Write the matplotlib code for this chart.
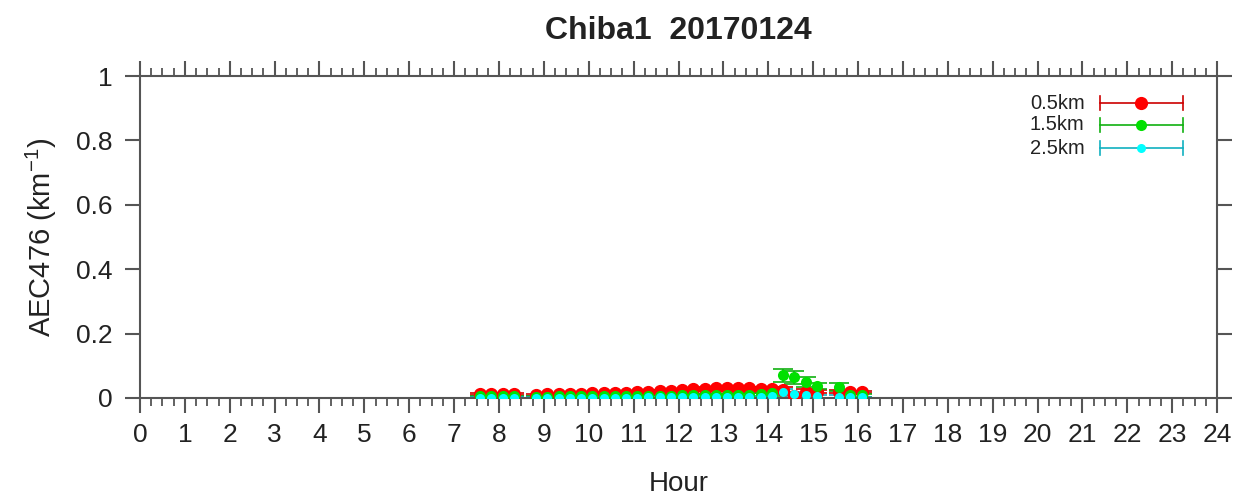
import numpy as np
import matplotlib.pyplot as plt
from matplotlib.ticker import MultipleLocator

plt.rcParams['font.family'] = ['Liberation Sans', 'DejaVu Sans']
plt.rcParams['mathtext.fontset'] = 'custom'
plt.rcParams['mathtext.rm'] = 'Liberation Sans'

# -------------------------------
# DATA
# -------------------------------
hours = [7.58, 7.83, 8.08, 8.33,
         8.83, 9.08, 9.33, 9.58, 9.83, 10.08, 10.33, 10.58, 10.83, 11.08,
         11.33, 11.58, 11.83, 12.08, 12.33, 12.58, 12.83, 13.08, 13.33, 13.58,
         13.83, 14.08, 14.33, 14.58, 14.83, 15.08,
         15.58, 15.83, 16.08]

aec_05 = [0.012, 0.012, 0.012, 0.011,
          0.010, 0.011, 0.012, 0.013, 0.013, 0.014, 0.015, 0.016, 0.017, 0.018,
          0.020, 0.021, 0.022, 0.025, 0.027, 0.029, 0.030, 0.030, 0.030, 0.030,
          0.028, 0.028, 0.025, 0.005, 0.020, 0.020,
          0.020, 0.018, 0.018]
err_05 = [0.003, 0.003, 0.003, 0.003,
          0.003, 0.003, 0.003, 0.003, 0.003, 0.003, 0.003, 0.003, 0.003, 0.003,
          0.004, 0.004, 0.004, 0.004, 0.004, 0.004, 0.004, 0.004, 0.004, 0.004,
          0.005, 0.006, 0.008, 0.008, 0.008, 0.006,
          0.005, 0.004, 0.004]

aec_15 = [0.005, 0.005, 0.005, 0.005,
          0.004, 0.004, 0.005, 0.005, 0.005, 0.005, 0.005, 0.006, 0.006, 0.006,
          0.006, 0.007, 0.007, 0.008, 0.008, 0.009, 0.009, 0.009, 0.010, 0.010,
          0.012, 0.015, 0.070, 0.065, 0.050, 0.038,
          0.035, 0.008, 0.008]
err_15 = [0.002, 0.002, 0.002, 0.002,
          0.002, 0.002, 0.002, 0.002, 0.002, 0.002, 0.002, 0.003, 0.003, 0.003,
          0.003, 0.003, 0.003, 0.003, 0.004, 0.004, 0.004, 0.004, 0.004, 0.004,
          0.005, 0.008, 0.020, 0.020, 0.015, 0.010,
          0.012, 0.004, 0.004]

aec_25 = [0.000, 0.000, 0.000, 0.000,
          0.000, 0.000, 0.000, 0.000, 0.001, 0.001, 0.001, 0.001, 0.001, 0.001,
          0.002, 0.002, 0.002, 0.002, 0.002, 0.003, 0.003, 0.003, 0.003, 0.003,
          0.004, 0.006, 0.020, 0.012, 0.008, 0.005,
          0.004, 0.002, 0.002]
err_25 = [0.002, 0.002, 0.002, 0.002,
          0.002, 0.002, 0.002, 0.002, 0.002, 0.002, 0.002, 0.002, 0.002, 0.002,
          0.002, 0.002, 0.002, 0.002, 0.002, 0.003, 0.003, 0.003, 0.003, 0.003,
          0.003, 0.005, 0.008, 0.006, 0.005, 0.004,
          0.004, 0.002, 0.002]

series = [
    ("0.5km", aec_05, err_05, "#ff0000", "#cc0000", 9.5),
    ("1.5km", aec_15, err_15, "#00e000", "#10b010", 8.0),
    ("2.5km", aec_25, err_25, "#00ffff", "#10b0c0", 6.5),
]

# -------------------------------
# PLOT
# -------------------------------
fig = plt.figure(figsize=(12.41, 4.97), dpi=100)
ax = fig.add_axes([0.1128, 0.1992, 0.8679, 0.6478])

gray = "#555555"
txt = "#222222"

for name, vals, errs, col, ecol, ms in series:
    ax.errorbar(hours, vals, yerr=errs, fmt="none", ecolor=ecol,
                elinewidth=1.2, capsize=7, capthick=1.2, zorder=2)
    ax.plot(hours, vals, "o", color=col, markersize=ms,
            markeredgewidth=0, zorder=3)

ax.set_xlim(0, 24)
ax.set_ylim(0, 1)
ax.xaxis.set_major_locator(MultipleLocator(1))
ax.xaxis.set_minor_locator(MultipleLocator(0.25))
ax.set_yticks([0, 0.2, 0.4, 0.6, 0.8, 1])
ax.set_yticklabels(["0", "0.2", "0.4", "0.6", "0.8", "1"])

ax.tick_params(axis="both", which="major", direction="out", length=11,
               width=1.5, color=gray, labelsize=19, labelcolor=txt,
               top=True, right=True)
ax.tick_params(axis="x", which="minor", direction="out", length=6,
               width=1.3, color=gray, top=True)
ax.tick_params(axis="x", which="major", pad=7)
ax.tick_params(axis="y", which="major", pad=9)
for sp in ax.spines.values():
    sp.set_color(gray)
    sp.set_linewidth(1.5)

ax.set_title("Chiba1  20170124", fontsize=23, fontweight="bold", pad=27,
             color=txt)
ax.set_xlabel("Hour", fontsize=20, labelpad=17, color=txt)
ax.set_ylabel("AEC476 (km$^{-1}$)", fontsize=21, labelpad=12, color=txt)

# legend drawn by hand in axes coords
leg_y = [0.916, 0.848, 0.776]
for (name, vals, errs, col, ecol, ms), yy in zip(series, leg_y):
    ax.plot([0.891, 0.968], [yy, yy], color=ecol, lw=1.2,
            transform=ax.transAxes, clip_on=False)
    for xx in (0.891, 0.968):
        ax.plot([xx, xx], [yy - 0.022, yy + 0.022], color=ecol, lw=1.2,
                transform=ax.transAxes, clip_on=False)
    ax.plot([0.929], [yy], "o", color=col, markersize=ms, markeredgewidth=0,
            transform=ax.transAxes, clip_on=False)
    ax.text(0.877, yy, name, transform=ax.transAxes, ha="right",
            va="center", fontsize=14.5, color=txt)

plt.savefig("out.png", dpi=100)
